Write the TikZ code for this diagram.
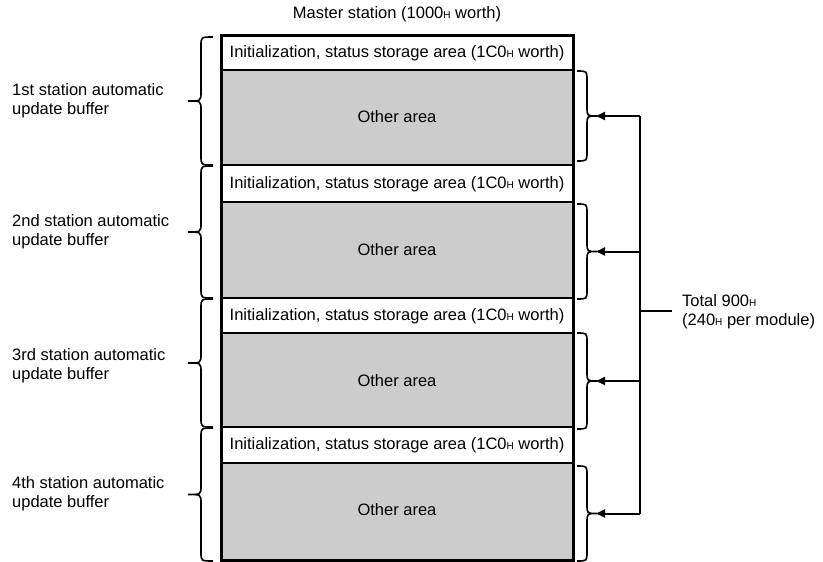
\documentclass[tikz,border=0pt]{standalone}
\usepackage{fontspec}
\setmainfont{Liberation Sans}
\usetikzlibrary{arrows.meta}
\newcommand\hsub{{\fontsize{10}{10}\selectfont H}}
% brace: #1 = x of the ends, #2 = top y, #3 = bottom y, #4 = signed offset of vertical part, #5 = signed offset of tip
\newcommand\mybrace[5]{%
  \draw[bracestyle] ({#1},{#2}) .. controls ({#1+#4},{#2}) .. ({#1+#4},{#2+9})
    -- ({#1+#4},{(#2+#3)/2-9}) .. controls ({#1+#4},{(#2+#3)/2}) .. ({#1+#5},{(#2+#3)/2})
    .. controls ({#1+#4},{(#2+#3)/2}) .. ({#1+#4},{(#2+#3)/2+9})
    -- ({#1+#4},{#3-9}) .. controls ({#1+#4},{#3}) .. ({#1},{#3});}
\tikzset{
  initrow/.style={draw=black,line width=2pt,fill=white},
  otherrow/.style={draw=black,line width=2pt,fill=black!20},
  lbl/.style={font=\fontsize{16.5}{19}\selectfont,inner sep=0pt},
  sidelbl/.style={font=\fontsize{16.5}{19}\selectfont,inner sep=0pt,align=left,anchor=west},
  bracestyle/.style={line width=1.6pt},
  conn/.style={line width=2pt},
  arr/.style={line width=2pt,-{Triangle[length=9pt,width=8pt]}}
}
\begin{document}
\begin{tikzpicture}[x=1pt,y=-1pt]
\useasboundingbox (0,0) rectangle (823,562);
% rows
\path[initrow]  (221,35)  rectangle (573,70);
\path[otherrow] (221,70)  rectangle (573,165);
\path[initrow]  (221,165) rectangle (573,202);
\path[otherrow] (221,202) rectangle (573,298);
\path[initrow]  (221,298) rectangle (573,333);
\path[otherrow] (221,333) rectangle (573,427);
\path[initrow]  (221,427) rectangle (573,463);
\path[otherrow] (221,463) rectangle (573,560);
\draw[line width=3pt] (221,35) rectangle (573,560);
% row texts
\node[lbl] (i1) at (397,53)  {Initialization, status storage area (1C0\hsub{} worth)};
\node[lbl] (o1) at (397,117) {Other area};
\node[lbl] (i2) at (397,184) {Initialization, status storage area (1C0\hsub{} worth)};
\node[lbl] (o2) at (397,250) {Other area};
\node[lbl] (i3) at (397,316) {Initialization, status storage area (1C0\hsub{} worth)};
\node[lbl] (o3) at (397,381) {Other area};
\node[lbl] (i4) at (397,445) {Initialization, status storage area (1C0\hsub{} worth)};
\node[lbl] (o4) at (397,510) {Other area};
\node[lbl] (title) at (397,14) {Master station (1000\hsub{} worth)};
% left braces
\mybrace{213}{37}{165}{-12}{-25}
\mybrace{213}{166}{298}{-12}{-25}
\mybrace{213}{299}{427}{-12}{-25}
\mybrace{213}{428}{561}{-12}{-25}
\node[sidelbl] (s1) at (12,101) {1st station automatic\\update buffer};
\node[sidelbl] (s2) at (12,232) {2nd station automatic\\update buffer};
\node[sidelbl] (s3) at (12,366) {3rd station automatic\\update buffer};
\node[sidelbl] (s4) at (12,494) {4th station automatic\\update buffer};
% right braces
\mybrace{577}{71}{161}{10}{20}
\mybrace{577}{204}{299}{10}{20}
\mybrace{577}{333}{429}{10}{20}
\mybrace{577}{466}{561}{10}{20}
\coordinate (t1) at (596,116);
\coordinate (t2) at (596,251.5);
\coordinate (t3) at (596,381);
\coordinate (t4) at (596,513.5);
\coordinate (v1) at (640,116);
\coordinate (v2) at (640,251.5);
\coordinate (v3) at (640,381);
\coordinate (v4) at (640,513.5);
\coordinate (vm) at (640,311);
\coordinate (hm) at (672,311);
\draw[conn] (v1) -- (v4);
\draw[arr] (v1) -- (t1);
\draw[arr] (v2) -- (t2);
\draw[arr] (v3) -- (t3);
\draw[arr] (v4) -- (t4);
\draw[conn] (vm) -- (hm);
\node[sidelbl] (tot) at (682,312) {Total 900\hsub\\(240\hsub{} per module)};
\end{tikzpicture}
\end{document}
